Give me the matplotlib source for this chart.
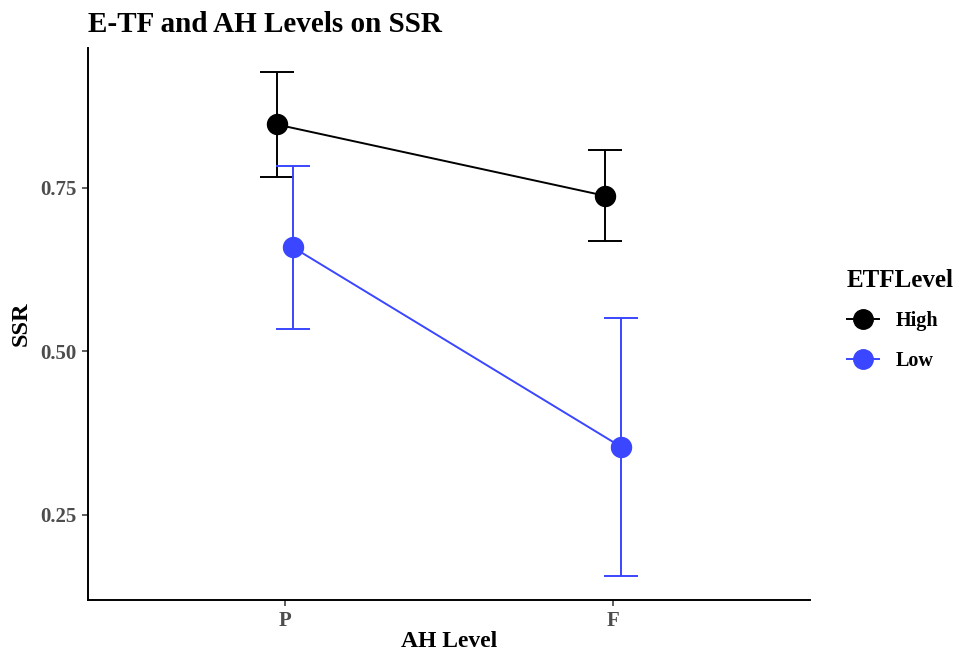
import matplotlib
matplotlib.use('Agg')
import matplotlib.pyplot as plt
import numpy as np
from matplotlib.lines import Line2D

plt.rcParams['font.family'] = ['Liberation Serif', 'DejaVu Serif']

# data
ah_levels = ['P', 'F']
etf_levels = ['High', 'Low']
ssr_high = [0.847, 0.738]
ssr_low = [0.659, 0.354]
err_high = [0.080, 0.070]
err_low = [0.125, 0.197]
colors = {'High': '#000000', 'Low': '#3A46FF'}

fig = plt.figure(figsize=(9.56, 6.53), dpi=100)
ax = fig.add_axes([0.092, 0.081, 0.755, 0.845])

x = np.arange(1, len(ah_levels) + 1)
dodge = 0.025
series = {'High': (ssr_high, err_high, -dodge), 'Low': (ssr_low, err_low, dodge)}

for lvl in etf_levels:
    vals, errs, off = series[lvl]
    c = colors[lvl]
    ax.errorbar(x + off, vals, yerr=errs, fmt='none', ecolor=c,
                elinewidth=1.4, capsize=11.9, capthick=1.4, zorder=2)
    ax.plot(x + off, vals, color=c, lw=1.4, zorder=3)
    ax.plot(x + off, vals, 'o', color=c, ms=14.4, zorder=4)

ax.set_xlim(0.4, 2.6)
ax.set_ylim(0.1196, 0.9634)
ax.set_xticks(x)
ax.set_xticklabels(ah_levels)
ax.set_yticks([0.25, 0.50, 0.75])
ax.set_yticklabels(['0.25', '0.50', '0.75'])

for s in ['top', 'right']:
    ax.spines[s].set_visible(False)
for s in ['left', 'bottom']:
    ax.spines[s].set_linewidth(1.4)
    ax.spines[s].set_color('black')

ax.tick_params(axis='both', length=4, width=1.1, color='#333333',
               labelcolor='#4D4D4D', labelsize=15, pad=4)
for lab in ax.get_xticklabels() + ax.get_yticklabels():
    lab.set_fontweight('bold')

ax.set_xlabel('AH Level', fontsize=17, fontweight='bold', labelpad=0)
ax.set_ylabel('SSR', fontsize=17.5, fontweight='bold', labelpad=6)
ax.set_title('E-TF and AH Levels on SSR', fontsize=21, fontweight='bold',
             loc='left', x=0.0, pad=12)

handles = [Line2D([0], [0], color=colors[l], lw=1.4, marker='o', ms=14)
           for l in etf_levels]
leg = fig.legend(handles, etf_levels, title='ETFLevel', loc='center left',
                 bbox_to_anchor=(0.886, 0.51), frameon=False,
                 prop={'size': 14.5, 'weight': 'bold'}, handlelength=1.6,
                 labelspacing=0.95, handletextpad=0.8, borderpad=0,
                 borderaxespad=0)
leg.get_title().set_fontsize(18)
leg.get_title().set_fontweight('bold')
leg._legend_box.align = 'left'

fig.savefig('out.png', dpi=100)
